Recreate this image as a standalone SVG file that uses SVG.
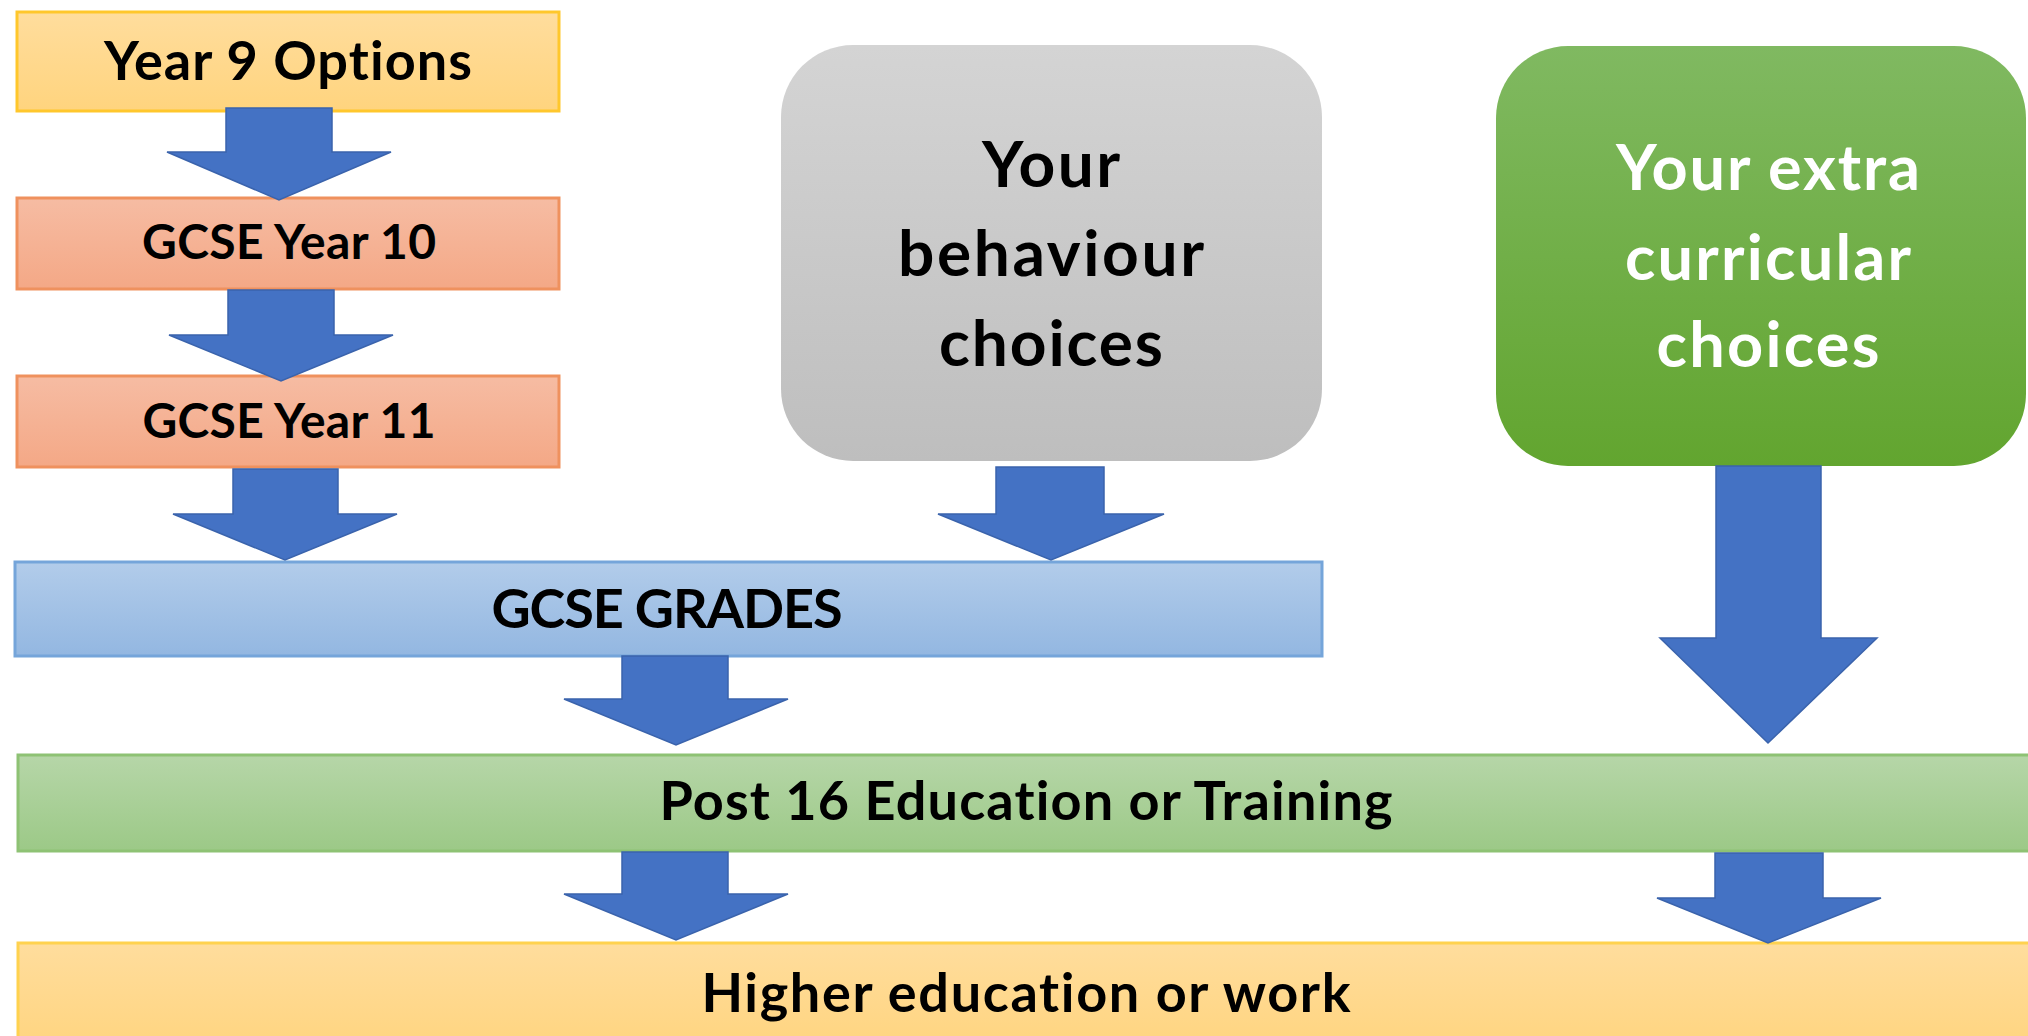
<svg xmlns="http://www.w3.org/2000/svg" width="2028" height="1036" viewBox="0 0 2028 1036">
<defs>
<linearGradient id="gYellow" x1="0" y1="0" x2="0" y2="1"><stop offset="0" stop-color="#FFDD9D"/><stop offset="1" stop-color="#FFD47E"/></linearGradient>
<linearGradient id="gSalmon" x1="0" y1="0" x2="0" y2="1"><stop offset="0" stop-color="#F6BCA3"/><stop offset="1" stop-color="#F4A886"/></linearGradient>
<linearGradient id="gBlue" x1="0" y1="0" x2="0" y2="1"><stop offset="0" stop-color="#B2CCEA"/><stop offset="1" stop-color="#93B7E1"/></linearGradient>
<linearGradient id="gLGreen" x1="0" y1="0" x2="0" y2="1"><stop offset="0" stop-color="#B6D6A8"/><stop offset="1" stop-color="#9CC987"/></linearGradient>
<linearGradient id="gGrey" x1="0" y1="0" x2="0" y2="1"><stop offset="0" stop-color="#D4D4D4"/><stop offset="1" stop-color="#BEBEBE"/></linearGradient>
<linearGradient id="gGreen" x1="0" y1="0" x2="0" y2="1"><stop offset="0" stop-color="#80B961"/><stop offset="1" stop-color="#62A52F"/></linearGradient>
</defs>
<style>
.lbl{font-family:Lato,"Liberation Sans",sans-serif;font-weight:bold;fill:#000;text-anchor:middle;font-variant-ligatures:none}
.wht{fill:#fff}
.arrow{fill:#4472C4;stroke:#3A63AC;stroke-width:1.5;stroke-linejoin:miter}
</style>
<rect width="2028" height="1036" fill="#fff"/>

<g id="node-year9">
<rect x="17" y="12" width="542" height="99" fill="url(#gYellow)" stroke="#FFC72C" stroke-width="3"/>
<text class="lbl" x="288" y="80" font-size="54" textLength="368">Year 9 Options</text>
</g>
<g id="node-year10">
<rect x="17" y="198" width="542" height="91" fill="url(#gSalmon)" stroke="#EF915E" stroke-width="3"/>
<text class="lbl" x="289" y="259" font-size="48" textLength="294">GCSE Year 10</text>
</g>
<g id="node-year11">
<rect x="17" y="376" width="542" height="91" fill="url(#gSalmon)" stroke="#EF915E" stroke-width="3"/>
<text class="lbl" x="289" y="438" font-size="48" textLength="293">GCSE Year 11</text>
</g>
<g id="node-behaviour">
<rect x="781" y="45" width="541" height="416" rx="72" ry="72" fill="url(#gGrey)"/>
<text class="lbl" x="1051" y="187" font-size="64" textLength="138">Your</text>
<text class="lbl" x="1051" y="276" font-size="64" textLength="306">behaviour</text>
<text class="lbl" x="1051" y="366" font-size="64" textLength="224">choices</text>
</g>
<g id="node-extra">
<rect x="1496" y="46" width="530" height="420" rx="72" ry="72" fill="url(#gGreen)"/>
<text class="lbl wht" x="1768" y="190" font-size="63" textLength="304">Your extra</text>
<text class="lbl wht" x="1768" y="280" font-size="63" textLength="286">curricular</text>
<text class="lbl wht" x="1768" y="367" font-size="63" textLength="223">choices</text>
</g>
<g id="node-grades">
<rect x="15" y="562" width="1307" height="94" fill="url(#gBlue)" stroke="#75A5DA" stroke-width="3"/>
<text class="lbl" x="667" y="628" font-size="54" textLength="351">GCSE GRADES</text>
</g>
<g id="node-post16">
<rect x="18" y="755" width="2020" height="96" fill="url(#gLGreen)" stroke="#8EC274" stroke-width="3"/>
<text class="lbl" x="1026" y="820" font-size="54" textLength="733">Post 16 Education or Training</text>
</g>
<g id="node-higher">
<rect x="18" y="943" width="2020" height="110" fill="url(#gYellow)" stroke="#FFD24F" stroke-width="3"/>
<text class="lbl" x="1026" y="1012" font-size="54" textLength="649">Higher education or work</text>
</g>

<g id="connectors">
<polygon class="arrow" points="226,108 332,108 332,152 391,152 279,200 167,152 226,152"/>
<polygon class="arrow" points="228,290 334,290 334,335 393,335 281,381 169,335 228,335"/>
<polygon class="arrow" points="233,469 338,469 338,514 397,514 285,560 173,514 233,514"/>
<polygon class="arrow" points="996,467 1104,467 1104,514 1164,514 1051,560 938,514 996,514"/>
<polygon class="arrow" points="1716,466 1821,466 1821,638 1877,638 1768,743 1660,638 1716,638"/>
<polygon class="arrow" points="622,656 728,656 728,699 788,699 676,745 564,699 622,699"/>
<polygon class="arrow" points="622,852 728,852 728,894 788,894 676,940 564,894 622,894"/>
<polygon class="arrow" points="1715,853 1823,853 1823,898 1881,898 1768,943 1657,898 1715,898"/>
</g>
</svg>
